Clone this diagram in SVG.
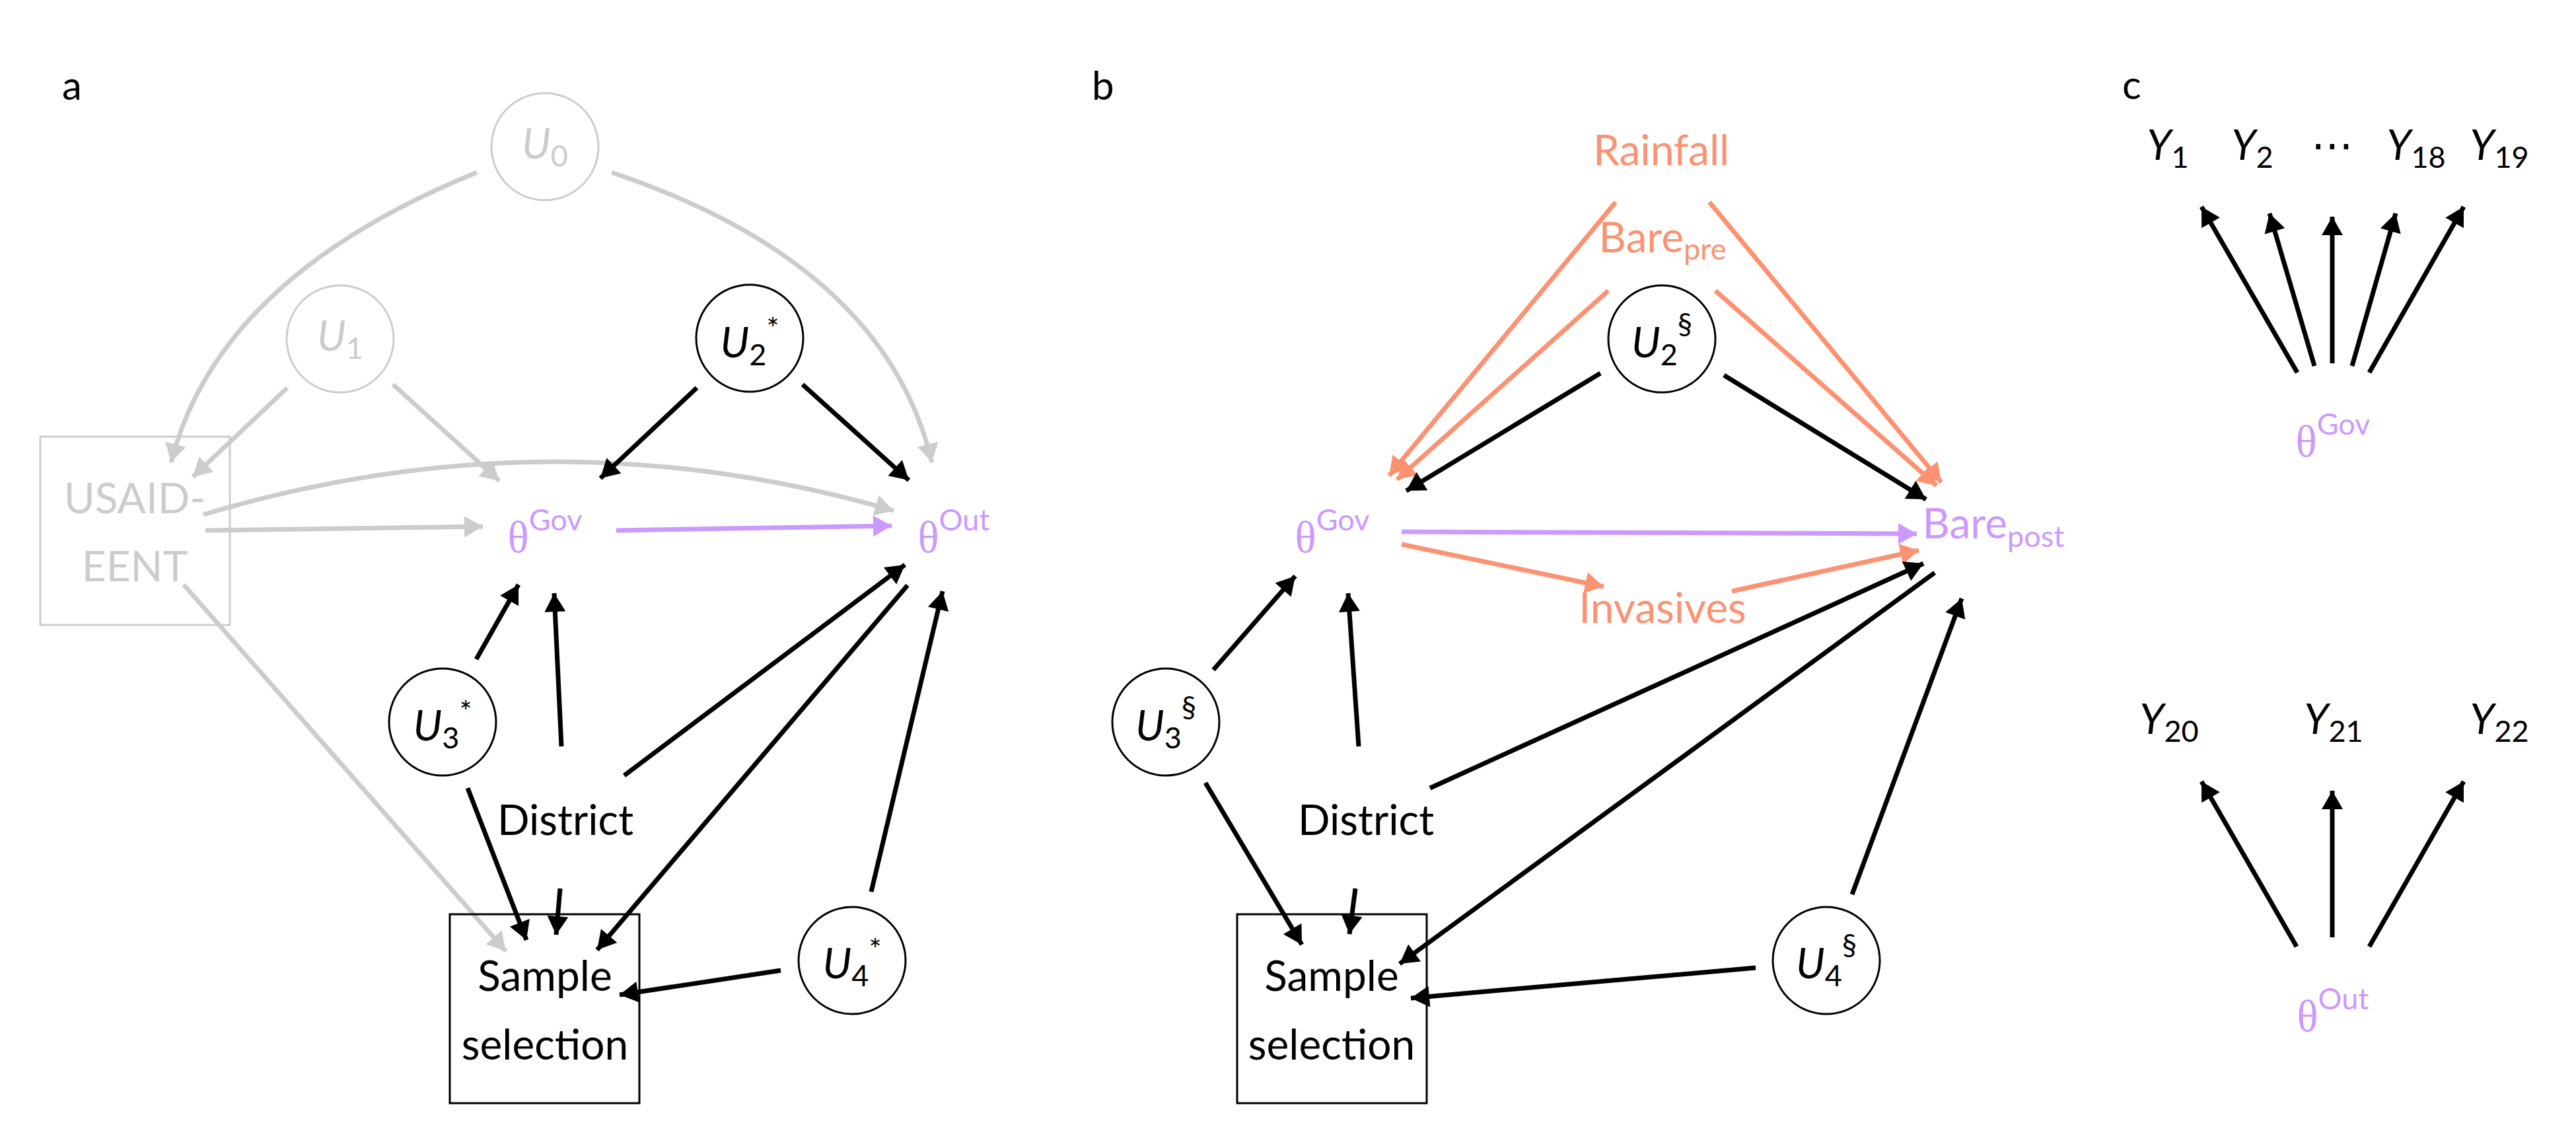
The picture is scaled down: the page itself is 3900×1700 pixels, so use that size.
<svg xmlns="http://www.w3.org/2000/svg" width="3900" height="1700" viewBox="0 0 3900 1700">
<style>
text{font-family:Lato,"Open Sans","DejaVu Sans",sans-serif;font-size:64px;fill:#000}
.m{text-anchor:middle}
.pl{font-size:60px}
.g{fill:#CCCCCC}.p{fill:#CC99FF}.s{fill:#FC9272}
.it{font-style:italic}
.sm{font-size:45px}
.th{font-family:"Liberation Serif","DejaVu Serif",serif;font-size:67px}
.dots{font-family:"DejaVu Sans",sans-serif;font-size:64px}
.c{fill:none;stroke:#000;stroke-width:3}
.cg{fill:none;stroke:#CCCCCC;stroke-width:3}
.e{fill:none;stroke-width:7;stroke-linecap:butt}
.ek{stroke:#000;marker-end:url(#ak)}
.eg{stroke:#CCCCCC;marker-end:url(#ag)}
.ep{stroke:#CC99FF;marker-end:url(#ap)}
.es{stroke:#FC9272;marker-end:url(#as)}
</style>
<defs>
<marker id="ak" markerUnits="userSpaceOnUse" markerWidth="40" markerHeight="40" viewBox="-30 -20 40 40" refX="0" refY="0" orient="auto" overflow="visible"><path d="M-28,-16 L0,0 L-28,16 Z" fill="#000"/></marker>
<marker id="ag" markerUnits="userSpaceOnUse" markerWidth="40" markerHeight="40" viewBox="-30 -20 40 40" refX="0" refY="0" orient="auto" overflow="visible"><path d="M-28,-16 L0,0 L-28,16 Z" fill="#CCCCCC"/></marker>
<marker id="ap" markerUnits="userSpaceOnUse" markerWidth="40" markerHeight="40" viewBox="-30 -20 40 40" refX="0" refY="0" orient="auto" overflow="visible"><path d="M-28,-16 L0,0 L-28,16 Z" fill="#CC99FF"/></marker>
<marker id="as" markerUnits="userSpaceOnUse" markerWidth="40" markerHeight="40" viewBox="-30 -20 40 40" refX="0" refY="0" orient="auto" overflow="visible"><path d="M-28,-16 L0,0 L-28,16 Z" fill="#FC9272"/></marker>
</defs>
<rect width="3900" height="1700" fill="#fff"/>

<g id="panel-labels">
<text class="pl" x="94" y="151">a</text>
<text class="pl" x="1653" y="151">b</text>
<text class="pl" x="3213" y="150">c</text>
</g>

<g id="connectors">
<!-- panel a gray -->
<path class="e eg" d="M722,261 Q330,420 259,700"/>
<path class="e eg" d="M926,261 Q1340,400 1411,700"/>
<path class="e eg" d="M435,587 L292,722"/>
<path class="e eg" d="M595,582 L756,728"/>
<path class="e eg" d="M311,803 L731,797"/>
<path class="e eg" d="M308,779 Q831,622 1353,773"/>
<path class="e eg" d="M278,885 L766,1440"/>
<!-- panel a black / purple -->
<path class="e ek" d="M1055,587 L909,724"/>
<path class="e ek" d="M1215,582 L1376,727"/>
<path class="e ep" d="M933,803 L1350,796"/>
<path class="e ek" d="M721,998 L785,885"/>
<path class="e ek" d="M850,1130 L839,898"/>
<path class="e ek" d="M945,1174 L1370,855"/>
<path class="e ek" d="M1374,886 L904,1438"/>
<path class="e ek" d="M1319,1350 L1427,895"/>
<path class="e ek" d="M708,1193 L797,1423"/>
<path class="e ek" d="M848,1345 L842,1415"/>
<path class="e ek" d="M1182,1469 L938,1506"/>
<!-- panel b -->
<path class="e es" d="M2446,306 L2103,720"/>
<path class="e es" d="M2588,306 L2939,730"/>
<path class="e es" d="M2435,440 L2115,726"/>
<path class="e es" d="M2597,440 L2932,735"/>
<path class="e ek" d="M2423,565 L2129,743"/>
<path class="e ek" d="M2610,568 L2916,756"/>
<path class="e ep" d="M2122,805 L2902,808"/>
<path class="e es" d="M2122,824 L2428,888"/>
<path class="e es" d="M2622,895 L2905,833"/>
<path class="e ek" d="M1837,1014 L1961,872"/>
<path class="e ek" d="M2057,1130 L2041,898"/>
<path class="e ek" d="M2165,1193 L2912,853"/>
<path class="e ek" d="M2929,867 L2119,1459"/>
<path class="e ek" d="M2804,1354 L2970,906"/>
<path class="e ek" d="M1825,1185 L1971,1430"/>
<path class="e ek" d="M2052,1345 L2043,1414"/>
<path class="e ek" d="M2658,1465 L2136,1511"/>
<!-- panel c -->
<path class="e ek" d="M3478,564 L3333,313"/>
<path class="e ek" d="M3504,554 L3436,323"/>
<path class="e ek" d="M3531,550 L3531,328"/>
<path class="e ek" d="M3561,554 L3627,323"/>
<path class="e ek" d="M3587,564 L3730,313"/>
<path class="e ek" d="M3477,1433 L3333,1183"/>
<path class="e ek" d="M3531,1419 L3531,1197"/>
<path class="e ek" d="M3587,1433 L3730,1183"/>
</g>

<!-- panel a nodes -->
<g id="a-U0"><circle class="cg" cx="825" cy="222" r="81"/><text class="m g" x="825" y="240"><tspan class="it">U</tspan><tspan class="sm" dy="12">0</tspan></text></g>
<g id="a-U1"><circle class="cg" cx="515" cy="513" r="81"/><text class="m g" x="515" y="531"><tspan class="it">U</tspan><tspan class="sm" dy="12">1</tspan></text></g>
<g id="a-U2"><circle class="c" cx="1135" cy="512" r="81"/><text class="m" x="1135" y="541"><tspan class="it">U</tspan><tspan class="sm" dy="12">2</tspan><tspan class="sm" dy="-40">*</tspan></text></g>
<g id="a-USAID"><rect x="61" y="661" width="287" height="285" fill="none" stroke="#CCCCCC" stroke-width="3"/><text class="m g" x="204" y="777">USAID-</text><text class="m g" x="204" y="880">EENT</text></g>
<g id="a-thetaGov"><text class="m p" x="825" y="836"><tspan class="th">θ</tspan><tspan class="sm" dy="-33">Gov</tspan></text></g>
<g id="a-thetaOut"><text class="m p" x="1444" y="836"><tspan class="th">θ</tspan><tspan class="sm" dy="-33">Out</tspan></text></g>
<g id="a-U3"><circle class="c" cx="670" cy="1093" r="81"/><text class="m" x="670" y="1121"><tspan class="it">U</tspan><tspan class="sm" dy="12">3</tspan><tspan class="sm" dy="-40">*</tspan></text></g>
<g id="a-District"><text class="m" x="856" y="1264">District</text></g>
<g id="a-Sample"><rect x="681" y="1384" width="287" height="286" fill="none" stroke="#000" stroke-width="3"/><text class="m" x="825" y="1500">Sample</text><text class="m" x="825" y="1604">selection</text></g>
<g id="a-U4"><circle class="c" cx="1290" cy="1454" r="81"/><text class="m" x="1290" y="1481"><tspan class="it">U</tspan><tspan class="sm" dy="12">4</tspan><tspan class="sm" dy="-40">*</tspan></text></g>

<!-- panel b nodes -->
<g id="b-Rainfall"><text class="m s" x="2515" y="250">Rainfall</text></g>
<g id="b-Barepre"><text class="m s" x="2517" y="382">Bare<tspan class="sm" dy="11">pre</tspan></text></g>
<g id="b-U2"><circle class="c" cx="2516" cy="513" r="81"/><text class="m" x="2516" y="541"><tspan class="it">U</tspan><tspan class="sm" dy="12">2</tspan><tspan class="sm" dy="-47">§</tspan></text></g>
<g id="b-thetaGov"><text class="m p" x="2017" y="836"><tspan class="th">θ</tspan><tspan class="sm" dy="-33">Gov</tspan></text></g>
<g id="b-Barepost"><text class="m p" x="3018" y="815">Bare<tspan class="sm" dy="13">post</tspan></text></g>
<g id="b-Invasives"><text class="m s" x="2517" y="943">Invasives</text></g>
<g id="b-U3"><circle class="c" cx="1765" cy="1093" r="81"/><text class="m" x="1765" y="1121"><tspan class="it">U</tspan><tspan class="sm" dy="12">3</tspan><tspan class="sm" dy="-47">§</tspan></text></g>
<g id="b-District"><text class="m" x="2068" y="1264">District</text></g>
<g id="b-Sample"><rect x="1873" y="1384" width="287" height="286" fill="none" stroke="#000" stroke-width="3"/><text class="m" x="2016" y="1500">Sample</text><text class="m" x="2016" y="1604">selection</text></g>
<g id="b-U4"><circle class="c" cx="2765" cy="1454" r="81"/><text class="m" x="2765" y="1481"><tspan class="it">U</tspan><tspan class="sm" dy="12">4</tspan><tspan class="sm" dy="-47">§</tspan></text></g>

<!-- panel c nodes -->
<g id="c-Y1"><text class="m" x="3282" y="242"><tspan class="it">Y</tspan><tspan class="sm" dy="12">1</tspan></text></g>
<g id="c-Y2"><text class="m" x="3410" y="242"><tspan class="it">Y</tspan><tspan class="sm" dy="12">2</tspan></text></g>
<g id="c-dots"><text class="m dots" x="3531" y="242">⋯</text></g>
<g id="c-Y18"><text class="m" x="3658" y="242"><tspan class="it">Y</tspan><tspan class="sm" dy="12">18</tspan></text></g>
<g id="c-Y19"><text class="m" x="3784" y="242"><tspan class="it">Y</tspan><tspan class="sm" dy="12">19</tspan></text></g>
<g id="c-thetaGov"><text class="m p" x="3532" y="691"><tspan class="th">θ</tspan><tspan class="sm" dy="-33">Gov</tspan></text></g>
<g id="c-Y20"><text class="m" x="3284" y="1111"><tspan class="it">Y</tspan><tspan class="sm" dy="12">20</tspan></text></g>
<g id="c-Y21"><text class="m" x="3533" y="1111"><tspan class="it">Y</tspan><tspan class="sm" dy="12">21</tspan></text></g>
<g id="c-Y22"><text class="m" x="3784" y="1111"><tspan class="it">Y</tspan><tspan class="sm" dy="12">22</tspan></text></g>
<g id="c-thetaOut"><text class="m p" x="3532" y="1561"><tspan class="th">θ</tspan><tspan class="sm" dy="-33">Out</tspan></text></g>
</svg>
